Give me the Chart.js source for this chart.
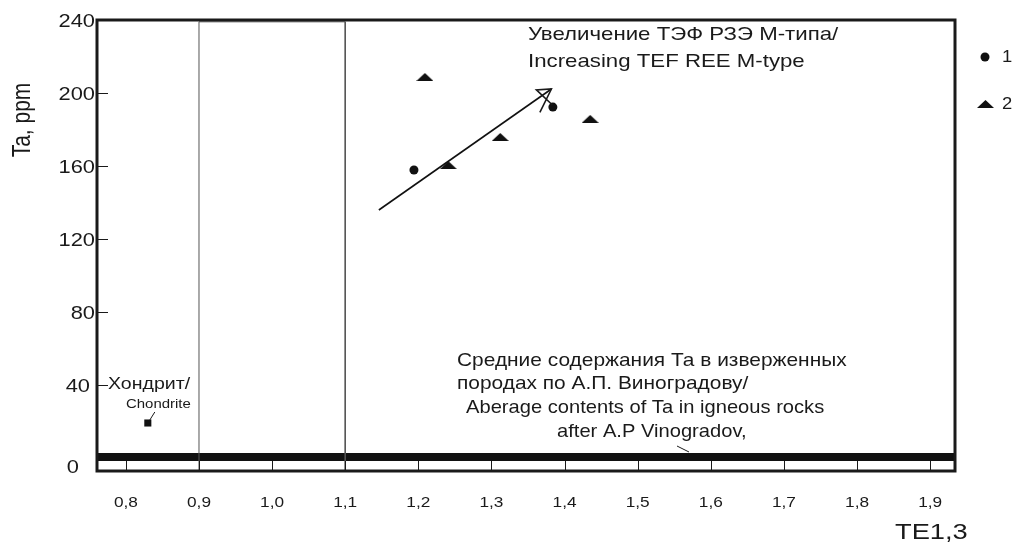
<!DOCTYPE html>
<html>
<head>
<meta charset="utf-8">
<script src="https://cdn.jsdelivr.net/npm/chart.js@4.4.1/dist/chart.umd.min.js"></script>
<style>
  html, body { margin: 0; padding: 0; background: #fff; }
  #wrap { width: 1015px; height: 543px; }
</style>
</head>
<body>
<div id="wrap"><canvas id="c" width="1015" height="543"></canvas></div>
<script>
// axis ranges and ticks
var xMin = 0.7605, xMax = 1.934;
var yMin = -7.1, yMax = 240;
var xTicks = [0.8, 0.9, 1.0, 1.1, 1.2, 1.3, 1.4, 1.5, 1.6, 1.7, 1.8, 1.9];
var xTickLabels = ['0,8', '0,9', '1,0', '1,1', '1,2', '1,3', '1,4', '1,5', '1,6', '1,7', '1,8', '1,9'];
var yTicks = [0, 40, 80, 120, 160, 200, 240];

// series 1 (circles)
var s1X = [1.194, 1.384];
var s1Y = [157.8, 192.3];
// series 2 (triangles)
var s2X = [1.209, 1.241, 1.312, 1.435];
var s2Y = [208.8, 160.5, 175.9, 185.8];
// chondrite
var chondX = [0.83];
var chondY = [19.2];
// average Ta in igneous rocks (Vinogradov)
var avgTa = 0.6;
// field box 0.9 - 1.1
var boxX = [0.9, 1.1];
// trend arrow
var arrowX = [1.146, 1.382];
var arrowY = [135.9, 202.2];

var FONT = '"Liberation Sans", Arial, sans-serif';

function pts(xs, ys) {
  return xs.map(function (x, i) { return { x: x, y: ys[i] }; });
}

// flat triangle marker
var tri = document.createElement('canvas');
tri.width = 17; tri.height = 8;
(function () {
  var t = tri.getContext('2d');
  t.fillStyle = '#111';
  t.beginPath();
  t.moveTo(8.5, 0); t.lineTo(17, 8); t.lineTo(0, 8); t.closePath();
  t.fill();
})();

function txt(ctx, s, x, y, size, sx, align) {
  ctx.save();
  ctx.font = size + 'px ' + FONT;
  ctx.fillStyle = '#1a1a1a';
  ctx.textBaseline = 'alphabetic';
  ctx.textAlign = align || 'left';
  ctx.translate(x, y);
  ctx.scale(sx, 1);
  ctx.fillText(s, 0, 0);
  ctx.restore();
}

var decor = {
  id: 'decor',
  afterDatasetsDraw: function (chart) {
    var ctx = chart.ctx, a = chart.chartArea;
    var xs = chart.scales.x, ys = chart.scales.y;
    ctx.save();
    ctx.strokeStyle = '#1a1a1a';
    // frame
    ctx.lineWidth = 3;
    ctx.strokeRect(a.left, a.top, a.right - a.left, a.bottom - a.top);
    // y tick marks
    ctx.lineWidth = 1;
    yTicks.forEach(function (v) {
      if (v === 0 || v === 240) return;
      var y = Math.round(ys.getPixelForValue(v)) + 0.5;
      ctx.beginPath(); ctx.moveTo(a.left, y); ctx.lineTo(a.left + 11, y); ctx.stroke();
    });
    // x tick marks
    xTicks.forEach(function (v) {
      var x = Math.round(xs.getPixelForValue(v)) + 0.5;
      ctx.beginPath(); ctx.moveTo(x, a.bottom); ctx.lineTo(x, a.bottom - 10); ctx.stroke();
    });
    // arrow head
    var x0 = xs.getPixelForValue(arrowX[0]), y0 = ys.getPixelForValue(arrowY[0]);
    var x1 = xs.getPixelForValue(arrowX[1]), y1 = ys.getPixelForValue(arrowY[1]);
    var ang = Math.atan2(y0 - y1, x0 - x1);
    ctx.lineWidth = 1.6;
    ctx.beginPath();
    ctx.moveTo(x1 + 26 * Math.cos(ang - 0.5), y1 + 26 * Math.sin(ang - 0.5));
    ctx.lineTo(x1, y1);
    ctx.lineTo(x1 + 15 * Math.cos(ang + 0.55), y1 + 15 * Math.sin(ang + 0.55));
    ctx.lineTo(x1 + 1, y1 + 16);
    ctx.stroke();
    // chondrite leader
    var cx = xs.getPixelForValue(chondX[0]), cy = ys.getPixelForValue(chondY[0]);
    ctx.lineWidth = 1;
    ctx.beginPath(); ctx.moveTo(cx + 2, cy - 3); ctx.lineTo(cx + 7, cy - 11); ctx.stroke();
    // Vinogradov leader
    ctx.beginPath(); ctx.moveTo(677, 446); ctx.lineTo(689, 452); ctx.stroke();
    ctx.restore();

    // tick labels
    yTicks.forEach(function (v) {
      var dx = v === 0 ? -16 : (v === 40 ? -5 : 0);
      txt(ctx, String(v), 95 + dx, ys.getPixelForValue(v) + 7 + (v === 0 ? 8 : 0), 19, 1.15, 'right');
    });
    xTicks.forEach(function (v, i) {
      txt(ctx, xTickLabels[i], xs.getPixelForValue(v), 507, 15, 1.15, 'center');
    });
    // axis titles
    ctx.save();
    ctx.font = '21px ' + FONT;
    ctx.fillStyle = '#1a1a1a';
    ctx.textAlign = 'center';
    ctx.translate(30, 120);
    ctx.rotate(-Math.PI / 2);
    ctx.scale(1, 1.2);
    ctx.fillText('Ta, ppm', 0, 0);
    ctx.restore();
    txt(ctx, 'TE1,3', 895, 539, 22, 1.24);

    // annotations
    txt(ctx, 'Увеличение ТЭФ РЗЭ М-типа/', 528, 40, 19, 1.17);
    txt(ctx, 'Increasing TEF REE M-type', 528, 67, 19, 1.17);
    txt(ctx, 'Средние содержания Та в изверженных', 457, 366, 19, 1.1);
    txt(ctx, 'породах по А.П. Виноградову/', 457, 389, 19, 1.1);
    txt(ctx, 'Aberage contents of Ta in igneous rocks', 466, 413, 19, 1.06);
    txt(ctx, 'after A.P Vinogradov,', 557, 437, 19, 1.06);
    txt(ctx, 'Хондрит/', 108, 389, 17, 1.15);
    txt(ctx, 'Chondrite', 126, 408, 13, 1.15);

    // legend
    ctx.save();
    ctx.fillStyle = '#111';
    ctx.beginPath(); ctx.arc(985, 57, 4.5, 0, Math.PI * 2); ctx.fill();
    ctx.drawImage(tri, 977, 100);
    ctx.restore();
    txt(ctx, '1', 1002, 62, 16, 1.15);
    txt(ctx, '2', 1002, 109, 16, 1.15);
  }
};

new Chart(document.getElementById('c'), {
  type: 'scatter',
  data: {
    datasets: [
      {
        label: 'box',
        data: [{ x: boxX[0], y: yMin }, { x: boxX[0], y: yMax - 1 }, { x: boxX[1], y: yMax - 1 }, { x: boxX[1], y: yMin }],
        showLine: true, borderColor: '#555', borderWidth: 1, pointRadius: 0, fill: false
      },
      {
        label: 'avg',
        data: [{ x: xMin, y: avgTa }, { x: xMax, y: avgTa }],
        showLine: true, borderColor: '#111', borderWidth: 8, pointRadius: 0
      },
      {
        label: 'arrow',
        data: pts(arrowX, arrowY),
        showLine: true, borderColor: '#111', borderWidth: 1.6, pointRadius: 0
      },
      {
        label: '1',
        data: pts(s1X, s1Y),
        pointStyle: 'circle', pointRadius: 4.5, backgroundColor: '#111', borderColor: '#111', borderWidth: 0
      },
      {
        label: '2',
        data: pts(s2X, s2Y),
        pointStyle: tri, pointRadius: 8
      },
      {
        label: 'chondrite',
        data: pts(chondX, chondY),
        pointStyle: 'rect', pointRadius: 5, backgroundColor: '#111', borderColor: '#111', borderWidth: 0
      }
    ]
  },
  options: {
    responsive: false,
    animation: false,
    layout: { padding: { left: 97, right: 60, top: 20, bottom: 72 } },
    plugins: { legend: { display: false }, tooltip: { enabled: false } },
    scales: {
      x: {
        type: 'linear', min: xMin, max: xMax,
        grid: { display: false }, border: { display: false },
        ticks: { display: false },
        afterBuildTicks: function (s) { s.ticks = xTicks.map(function (v) { return { value: v }; }); },
        afterFit: function (s) { s.height = 0; }
      },
      y: {
        type: 'linear', min: yMin, max: yMax,
        grid: { display: false }, border: { display: false },
        ticks: { display: false },
        afterBuildTicks: function (s) { s.ticks = yTicks.map(function (v) { return { value: v }; }); },
        afterFit: function (s) { s.width = 0; }
      }
    }
  },
  plugins: [decor]
});
</script>
</body>
</html>
